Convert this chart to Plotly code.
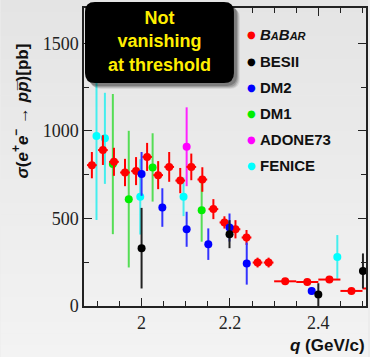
import plotly.graph_objects as go

# ---------------- data ----------------
babar_q = [1.8875, 1.9125, 1.9375, 1.9625, 1.9875, 2.0125, 2.0375, 2.0625, 2.0875, 2.1125,
           2.1375, 2.1625, 2.1875, 2.2125, 2.2375, 2.2625, 2.2875, 2.325, 2.375, 2.425, 2.475, 2.525]
babar_s = [804, 890, 823, 762, 770, 851, 747, 794, 716, 794, 722, 553, 477, 438, 391, 248, 248,
           141, 137, 151, 86, 100]
babar_err = [75, 85, 80, 78, 80, 80, 80, 85, 72, 76, 70, 57, 35, 52, 43, 28, 28, 18, 18, 18, 15, 15]
babar_qerr = [0.011] * 17 + [0.025] * 5

besii_q = [2.000, 2.199, 2.400, 2.501]
besii_s = [330, 410, 65, 200]
besii_err = [230, 80, 65, 100]

dm2_q = [2.000, 2.047, 2.102, 2.151, 2.199, 2.238, 2.385]
dm2_s = [754, 562, 438, 353, 448, 242, 86]
dm2_err = [125, 110, 100, 90, 80, 120, 20]

dm1_q = [1.935, 1.971, 2.025, 2.136]
dm1_s = [810, 610, 791, 547]
dm1_err = [400, 390, 195, 180]

adone_q = [2.102]
adone_s = [909]
adone_err = [225]

fenice_q = [1.898, 1.917, 1.997, 2.095, 2.443]
fenice_s = [971, 957, 623, 623, 280]
fenice_err = [480, 260, 215, 110, 125]

legend_labels = ["BABAR", "BESII", "DM2", "DM1", "ADONE73", "FENICE"]
legend_colors = ["#ff0000", "#000000", "#0000ff", "#00ee00", "#ff00ff", "#00ffff"]

x_ticks = [2.0, 2.2, 2.4]
y_ticks = [0, 500, 1000, 1500]

# ---------------- layout geometry ----------------
W, H = 370, 357
L, R, T, B = 84, 2, 8, 51
PW, PH = W - L - R, H - T - B


def px_x(px):
    return (px - L) / PW


def px_y(py):
    return (H - B - py) / PH


fig = go.Figure()


def add_series(q, s, err, mcolor, ecolor, qerr=None):
    kw = {}
    if qerr is not None:
        kw["error_x"] = dict(type="data", array=qerr, color=ecolor, thickness=2, width=0)
    fig.add_trace(go.Scatter(
        x=q, y=s, mode="markers",
        marker=dict(color=mcolor, size=8, line=dict(width=0)),
        error_y=dict(type="data", array=err, color=ecolor, thickness=2, width=0),
        showlegend=False, **kw))


add_series(fenice_q, fenice_s, fenice_err, "#00ffff", "#44eeee")
add_series(dm1_q, dm1_s, dm1_err, "#00ee00", "#55dd55")
add_series(adone_q, adone_s, adone_err, "#ff00ff", "#ff22ff")
add_series(babar_q, babar_s, babar_err, "#ff0000", "#ff0000", babar_qerr)
add_series(dm2_q, dm2_s, dm2_err, "#0000ff", "#3333ff")
add_series(besii_q, besii_s, besii_err, "#000000", "#222222")

shapes = []
# background gradient
n = 30
top_c, bot_c = 228, 243
for i in range(n):
    y0 = H * i / n
    y1 = H * (i + 1) / n + 0.5
    c = int(round(top_c + (bot_c - top_c) * i / (n - 1)))
    shapes.append(dict(type="rect", xref="paper", yref="paper", layer="below",
                       x0=px_x(0), x1=px_x(W), y0=px_y(y1), y1=px_y(y0),
                       line=dict(width=0), fillcolor=f"rgb({c},{c},{c})"))


def rounded(x0, y0, x1, y1, r):
    # pixel coords -> paper path
    def P(x, y):
        return f"{px_x(x):.5f},{px_y(y):.5f}"
    return (f"M {P(x0 + r, y0)} L {P(x1 - r, y0)} Q {P(x1, y0)} {P(x1, y0 + r)} "
            f"L {P(x1, y1 - r)} Q {P(x1, y1)} {P(x1 - r, y1)} L {P(x0 + r, y1)} "
            f"Q {P(x0, y1)} {P(x0, y1 - r)} L {P(x0, y0 + r)} Q {P(x0, y0)} {P(x0 + r, y0)} Z")


# callout shadow + box
for k, op in [(6, 0.08), (5, 0.12), (4, 0.16), (3, 0.2)]:
    shapes.append(dict(type="path", xref="paper", yref="paper", layer="above",
                       path=rounded(85 + k, 2 + k, 235 + k, 83 + k, 10),
                       line=dict(width=0), fillcolor=f"rgba(0,0,0,{op})"))
shapes.append(dict(type="path", xref="paper", yref="paper", layer="above",
                   path=rounded(85, 2, 235, 83, 10),
                   line=dict(width=0), fillcolor="#000000"))

annotations = []
annotations.append(dict(xref="paper", yref="paper", x=px_x(160), y=px_y(42),
                        text="<b>Not<br>vanishing<br>at threshold</b>",
                        showarrow=False, xanchor="center", yanchor="middle",
                        font=dict(family="Liberation Sans", size=18, color="#ffee00")))

legend_y = [34, 61.7, 87.7, 113.3, 139.3, 165.7]
for lab, col, ly in zip(legend_labels, legend_colors, legend_y):
    annotations.append(dict(xref="paper", yref="paper", x=px_x(253), y=px_y(ly),
                            text="●", showarrow=False, xanchor="center", yanchor="middle",
                            font=dict(family="DejaVu Sans", size=10, color=col)))
    if lab == "BABAR":
        txt = ("<b><i>B<span style='font-size:11px'>A</span>B"
               "<span style='font-size:11px'>AR</span></i></b>")
    else:
        txt = f"<b>{lab}</b>"
    annotations.append(dict(xref="paper", yref="paper", x=px_x(259), y=px_y(ly),
                            text=txt, showarrow=False, xanchor="left", yanchor="middle",
                            font=dict(family="Liberation Sans", size=15, color="#111111")))

annotations.append(dict(xref="paper", yref="paper", x=px_x(20), y=px_y(111),
                        text="<b><i>σ</i>(<i>e</i><sup>+</sup><i>e</i><sup>−</sup> → <i>pp̅</i>)[pb]</b>",
                        textangle=-90, showarrow=False, xanchor="center", yanchor="middle",
                        font=dict(family="Liberation Sans", size=17, color="#111111")))
annotations.append(dict(xref="paper", yref="paper", x=px_x(369), y=px_y(345),
                        text="<b><i>q</i> (GeV/c)</b>",
                        showarrow=False, xanchor="right", yanchor="middle",
                        font=dict(family="Liberation Sans", size=17, color="#111111")))

fig.update_layout(
    width=W, height=H,
    margin=dict(l=L, r=R, t=T, b=B, pad=0),
    paper_bgcolor="rgb(236,236,236)",
    plot_bgcolor="rgba(0,0,0,0)",
    shapes=shapes, annotations=annotations,
    showlegend=False,
)
axis_font = dict(family="Liberation Serif", size=18, color="#222222")
fig.update_xaxes(range=[1.8697, 2.5079], tickvals=x_ticks, ticktext=["2", "2.2", "2.4"],
                 ticks="inside", ticklen=8, tickwidth=1.2, tickcolor="#222",
                 minor=dict(ticks="inside", ticklen=5, dtick=0.05, tick0=2.0, tickcolor="#222", tickwidth=1),
                 showline=True, linecolor="#222", linewidth=1.5, mirror="ticks",
                 showgrid=False, zeroline=False, tickfont=axis_font)
fig.update_yaxes(range=[0, 1701], tickvals=y_ticks,
                 ticks="inside", ticklen=8, tickwidth=1.2, tickcolor="#222",
                 minor=dict(ticks="inside", ticklen=5, dtick=250, tick0=0, tickcolor="#222", tickwidth=1),
                 showline=True, linecolor="#222", linewidth=1.5, mirror="ticks",
                 showgrid=False, zeroline=False, tickfont=axis_font)

fig.write_html("out.html")
